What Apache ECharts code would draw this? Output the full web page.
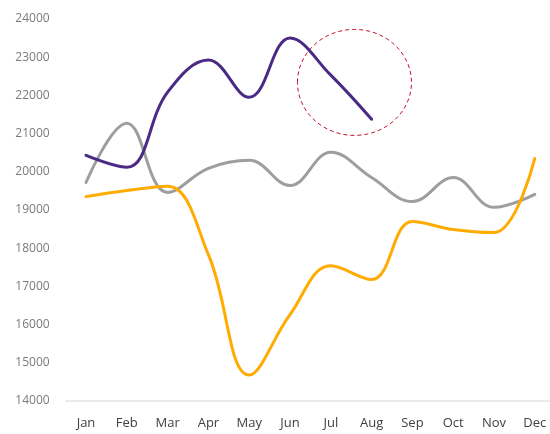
<!DOCTYPE html>
<html>
<head>
<meta charset="utf-8">
<script src="https://cdn.jsdelivr.net/npm/echarts@6/dist/echarts.min.js"></script>
<style>html,body{margin:0;padding:0;background:#fff;overflow:hidden;width:550px;height:434px;}#c{width:556px;height:434px;}</style>
</head>
<body>
<div id="c"></div>
<script>
const months = ['Jan','Feb','Mar','Apr','May','Jun','Jul','Aug','Sep','Oct','Nov','Dec'];
const purpleValues = [20430, 20120, 22085, 22925, 21950, 23500, 22530, 21375];
const grayValues = [19720, 21270, 19460, 20090, 20300, 19640, 20510, 19850, 19220, 19850, 19070, 19410];
const orangeValues = [19350, 19510, 19620, 17830, 14680, 16260, 17540, 17180, 18700, 18490, 18410, 20350];
const yTicks = [14000, 24000, 1000];
const highlight = { from: 'Jul', to: 'Aug', frac: 0.58, value: 22340 };

const chart = echarts.init(document.getElementById('c'), null, {renderer: 'canvas', width: 556, height: 434});
const font = '"Open Sans", "Noto Sans", sans-serif';
function lineSeries(name, data, color) {
  return {
    name: name, type: 'line', data: data, smooth: 0.4, symbol: 'none',
    lineStyle: { width: 3, color: color, cap: 'round' }, itemStyle: { color: color }
  };
}
chart.setOption({
  animation: false,
  grid: { left: 65.6, right: 0.8, top: 19, bottom: 33, containLabel: false },
  xAxis: {
    type: 'category', data: months, boundaryGap: true,
    axisLine: { show: true, lineStyle: { color: '#e3e3e3', width: 1.5 } },
    axisTick: { show: false },
    axisLabel: { color: '#404040', fontSize: 13, fontFamily: font, margin: 16, interval: 0 }
  },
  yAxis: {
    type: 'value', min: yTicks[0], max: yTicks[1], interval: yTicks[2],
    axisLine: { show: false }, axisTick: { show: false },
    splitLine: { show: false },
    axisLabel: { color: '#7a7a7a', fontSize: 12, fontFamily: font, margin: 16, formatter: v => String(v) }
  },
  series: [
    lineSeries('Gray', grayValues, '#9e9e9e'),
    lineSeries('Orange', orangeValues, '#ffab00'),
    lineSeries('Purple', purpleValues, '#4b2a85')
  ]
});
const a = chart.convertToPixel({ gridIndex: 0 }, [highlight.from, highlight.value]);
const b = chart.convertToPixel({ gridIndex: 0 }, [highlight.to, highlight.value]);
const cx = a[0] + (b[0] - a[0]) * highlight.frac;
chart.setOption({
  graphic: [{
    type: 'ellipse', silent: true,
    shape: { cx: cx, cy: a[1], rx: 57, ry: 53 },
    style: { fill: 'none', stroke: '#c8102e', lineWidth: 1, lineDash: [4, 3] }
  }]
});
</script>
</body>
</html>
